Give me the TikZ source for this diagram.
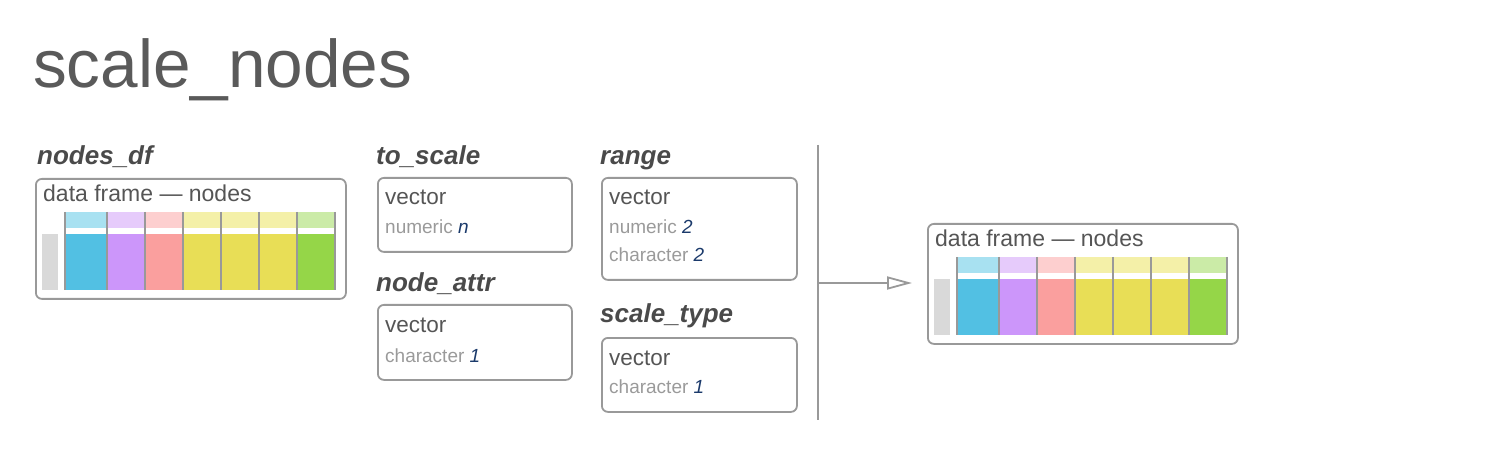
\documentclass[tikz,border=0pt]{standalone}
\usepackage{fontspec}
\setmainfont{Liberation Sans}
\usetikzlibrary{arrows.meta}
\definecolor{bordc}{HTML}{999999}
\definecolor{titc}{HTML}{5A5A5A}
\definecolor{lblc}{HTML}{4A4A4A}
\definecolor{vecc}{HTML}{555555}
\definecolor{subc}{HTML}{9A9A9A}
\definecolor{numc}{HTML}{1B3A6B}
\definecolor{idxc}{HTML}{D9D9D9}
\definecolor{bH}{HTML}{A8E1F1}\definecolor{bM}{HTML}{52C0E3}
\definecolor{pH}{HTML}{E6CBFB}\definecolor{pM}{HTML}{CC96FA}
\definecolor{rH}{HTML}{FDCFCF}\definecolor{rM}{HTML}{FA9F9E}
\definecolor{yH}{HTML}{F4F0A8}\definecolor{yM}{HTML}{E8DE56}
\definecolor{gH}{HTML}{CBEBA7}\definecolor{gM}{HTML}{95D648}
\tikzset{
  box/.style={draw=bordc, line width=1.8pt, rounded corners=6pt, inner sep=0pt, anchor=north west},
  lbl/.style={font=\fontsize{26}{28}\selectfont\bfseries\itshape, text=lblc, inner sep=0pt, anchor=base west},
  dftxt/.style={font=\fontsize{23}{25}\selectfont, text=vecc, inner sep=0pt, anchor=base west},
  vectxt/.style={font=\fontsize{22.5}{24}\selectfont, text=vecc, inner sep=0pt, anchor=base west},
  subtxt/.style={font=\fontsize{19}{21}\selectfont, text=subc, inner sep=0pt, anchor=base west},
  sep/.style={draw=bordc, line width=2pt},
  pics/dframe/.style={code={
    \node[box, minimum width=310pt, minimum height=120pt] (-box) at (0,0) {};
    \node[dftxt] (-title) at (8,24) {data frame — nodes};
    \fill[idxc] (7,56) rectangle (23,112);
    \foreach \a/\b/\h/\m in {30/72/bH/bM, 72/110/pH/pM, 110/148/rH/rM, 148/186/yH/yM, 186/224/yH/yM, 224/262/yH/yM, 262/300/gH/gM}{
      \fill[\h] (\a,34) rectangle (\b,50);
      \fill[\m] (\a,56) rectangle (\b,112);
    }
    \foreach \a in {30,72,110,148,186,224,262,300}{
      \draw[sep] (\a,34) -- (\a,112);
    }
  }}
}
\begin{document}
\begin{tikzpicture}[x=1pt,y=-1pt]
\useasboundingbox (0,0) rectangle (1510,454);
\node[font=\fontsize{67.5}{70}\selectfont, text=titc, inner sep=0pt, anchor=base west] (title) at (33,88) {scale\_nodes};

% input data frame
\node[lbl] (lnodes) at (37,165) {nodes\_df};
\pic (in) at (35,178) {dframe};

% to_scale
\node[lbl] (ltoscale) at (376,165) {to\_scale};
\node[box, minimum width=194pt, minimum height=74pt] (toscale) at (377,177) {};
\node[vectxt] (toscalev) at (385,205) {vector};
\node[subtxt] (toscales) at (385,234) {numeric \textcolor{numc}{\itshape n}};

% node_attr
\node[lbl] (lnodeattr) at (376,292) {node\_attr};
\node[box, minimum width=194pt, minimum height=75pt] (nodeattr) at (377,304) {};
\node[vectxt] (nodeattrv) at (385,333) {vector};
\node[subtxt] (nodeattrs) at (385,362) {character \textcolor{numc}{\itshape 1}};

% range
\node[lbl] (lrange) at (600,165) {range};
\node[box, minimum width=195pt, minimum height=102pt] (range) at (601,177) {};
\node[vectxt] (rangev) at (609,205) {vector};
\node[subtxt] (ranges1) at (609,234) {numeric \textcolor{numc}{\itshape 2}};
\node[subtxt] (ranges2) at (609,262) {character \textcolor{numc}{\itshape 2}};

% scale_type
\node[lbl] (lscaletype) at (600,323) {scale\_type};
\node[box, minimum width=195pt, minimum height=74pt] (scaletype) at (601,337) {};
\node[vectxt] (scaletypev) at (609,365) {vector};
\node[subtxt] (scaletypes) at (609,393) {character \textcolor{numc}{\itshape 1}};

% divider and arrow
\coordinate (vtop) at (818,145);
\coordinate (vbot) at (818,420);
\coordinate (join) at (818,283);
\coordinate (tip) at (912,283);
\draw[draw=bordc, line width=1.8pt] (vtop) -- (vbot);
\draw[draw=bordc, line width=1.8pt, -{Triangle[open, length=25pt, width=13pt, line width=1.8pt]}] (join) -- (tip);

% output data frame
\pic (out) at (927,223) {dframe};
\end{tikzpicture}
\end{document}
